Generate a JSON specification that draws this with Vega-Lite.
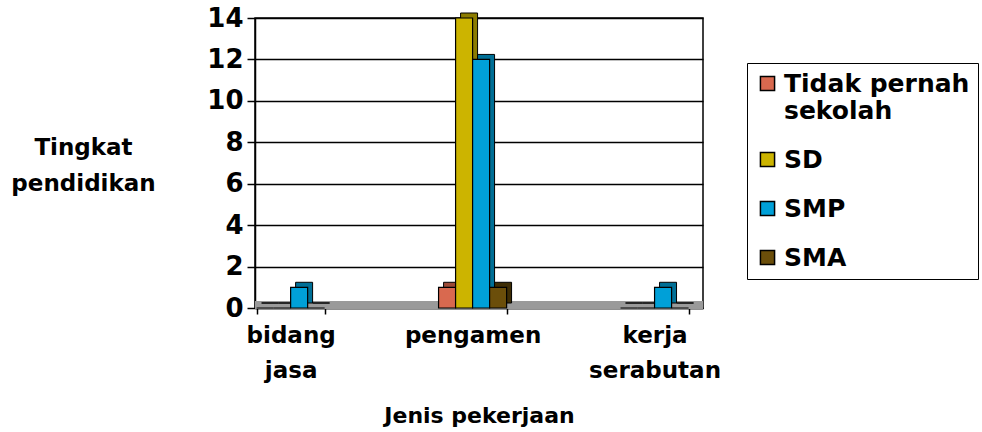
{
  "$schema": "https://vega.github.io/schema/vega-lite/v6.json",
  "width": 448,
  "height": 290,
  "autosize": {"type": "none"},
  "padding": {"left": 255, "top": 18, "right": 279, "bottom": 124},
  "background": "white",
  "config": {
    "font": "DejaVu Sans",
    "view": {"stroke": "black", "strokeWidth": 1.5}
  },
  "data": {
    "values": [
      {"job": "bidang jasa", "level": "Tidak pernah sekolah", "count": 0},
      {"job": "bidang jasa", "level": "SD", "count": 0},
      {"job": "bidang jasa", "level": "SMP", "count": 1},
      {"job": "bidang jasa", "level": "SMA", "count": 0},
      {"job": "pengamen", "level": "Tidak pernah sekolah", "count": 1},
      {"job": "pengamen", "level": "SD", "count": 14},
      {"job": "pengamen", "level": "SMP", "count": 12},
      {"job": "pengamen", "level": "SMA", "count": 1},
      {"job": "kerja serabutan", "level": "Tidak pernah sekolah", "count": 0},
      {"job": "kerja serabutan", "level": "SD", "count": 0},
      {"job": "kerja serabutan", "level": "SMP", "count": 1},
      {"job": "kerja serabutan", "level": "SMA", "count": 0}
    ]
  },
  "resolve": {"scale": {"color": "independent", "xOffset": "independent"}},
  "layer": [
    {
      "mark": {"type": "rule", "color": "#9a9a9a", "strokeWidth": 7, "yOffset": -3},
      "encoding": {"y": {"datum": 0, "type": "quantitative"}}
    },
    {
      "mark": {"type": "bar", "yOffset": -5, "stroke": "black", "strokeWidth": 1},
      "encoding": {
        "x": {"field": "job", "type": "nominal", "sort": ["bidang jasa", "pengamen", "kerja serabutan"]},
        "xOffset": {"field": "level", "sort": ["Tidak pernah sekolah", "SD", "SMP", "SMA"], "scale": {"range": [5, 73]}},
        "y": {"field": "count", "type": "quantitative"},
        "color": {
          "field": "level",
          "scale": {"domain": ["Tidak pernah sekolah", "SD", "SMP", "SMA"], "range": ["#9c4a36", "#8c7c00", "#006f96", "#3e2d05"]},
          "legend": null
        }
      }
    },
    {
      "mark": {"type": "bar", "stroke": "black", "strokeWidth": 1.2},
      "encoding": {
        "x": {
          "field": "job", "type": "nominal",
          "sort": ["bidang jasa", "pengamen", "kerja serabutan"],
          "scale": {"paddingInner": 0.626, "paddingOuter": 0.044, "align": 0.1},
          "axis": {
            "labelAngle": 0, "labelAlign": "center",
            "labelExpr": "datum.label == 'bidang jasa' ? ['bidang', 'jasa'] : datum.label == 'kerja serabutan' ? ['kerja', 'serabutan'] : datum.label",
            "labelFontSize": 23, "labelFontWeight": "bold", "labelColor": "black",
            "labelLineHeight": 35, "labelPadding": 10, "labelBaseline": "top",
            "tickBand": "extent", "tickColor": "black", "tickSize": 6, "tickWidth": 1.5,
            "domainColor": "black", "domainWidth": 1.5,
            "title": "Jenis pekerjaan", "titleFontSize": 22, "titleFontWeight": "bold", "titleColor": "black",
            "titleY": 107, "titleBaseline": "middle"
          }
        },
        "xOffset": {"field": "level", "sort": ["Tidak pernah sekolah", "SD", "SMP", "SMA"]},
        "y": {
          "field": "count", "type": "quantitative",
          "scale": {"domain": [0, 14]},
          "axis": {
            "values": [0, 2, 4, 6, 8, 10, 12, 14],
            "grid": true, "gridColor": "black", "gridWidth": 1.3,
            "labelFontSize": 26, "labelFontWeight": "bold", "labelColor": "black", "labelPadding": 4,
            "tickColor": "black", "tickSize": 8, "tickWidth": 1.5,
            "domainColor": "black", "domainWidth": 1.5,
            "title": ["Tingkat", "pendidikan"], "titleAngle": 0,
            "titleX": -172, "titleY": 129, "titleAlign": "center", "titleBaseline": "middle",
            "titleFontSize": 23, "titleFontWeight": "bold", "titleColor": "black", "titleLineHeight": 36
          }
        },
        "color": {
          "field": "level",
          "scale": {"domain": ["Tidak pernah sekolah", "SD", "SMP", "SMA"], "range": ["#d9694f", "#ccb400", "#00a0d8", "#6b4e0a"]},
          "legend": {
            "orient": "none", "legendX": 492, "legendY": 45,
            "title": null,
            "strokeColor": "black", "fillColor": "white", "padding": 8,
            "symbolType": "square", "symbolSize": 200, "symbolStrokeColor": "black", "symbolStrokeWidth": 1.5,
            "labelFontSize": 25, "labelFontWeight": "bold", "labelColor": "black", "labelLimit": 400,
            "labelLineHeight": 32,
            "labelExpr": "datum.label == 'Tidak pernah sekolah' ? ['Tidak pernah', 'sekolah'] : datum.label",
            "rowPadding": 23
          }
        }
      }
    }
  ]
}
